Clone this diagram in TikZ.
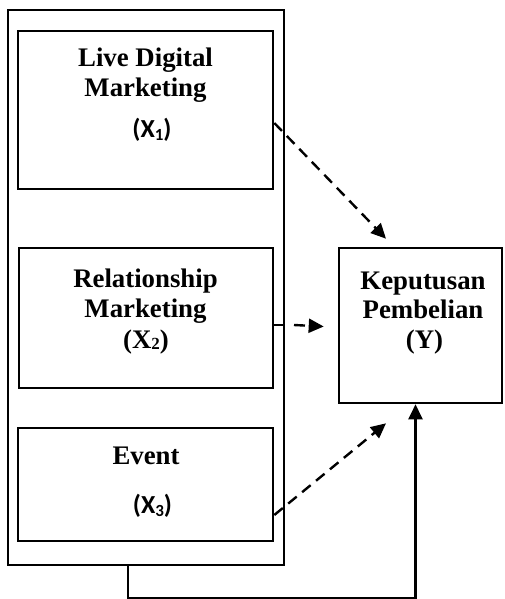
\documentclass[tikz,border=0pt]{standalone}
\usepackage{fontspec}
\setmainfont{Liberation Serif}
\newfontfamily\carl{Carlito}
\usetikzlibrary{arrows.meta}
\newcommand\mysubsans[1]{\raisebox{-0.25ex}{\fontsize{17}{17}\selectfont #1}}
\newcommand\mysubserif[1]{\raisebox{-0.1ex}{\fontsize{17}{17}\selectfont #1}}
\begin{document}
\begin{tikzpicture}[x=1pt,y=-1pt,
  box/.style={draw,line width=2.6pt,rectangle,inner sep=0pt},
  outerbox/.style={draw,line width=2pt,rectangle,inner sep=0pt},
  lbl/.style={anchor=base,inner sep=0pt,font=\bfseries\fontsize{26.8}{32}\selectfont},
  lbls/.style={anchor=base,inner sep=0pt,font=\carl\bfseries\fontsize{26}{30}\selectfont},
  dasharr/.style={line width=2.4pt,dash pattern=on 11pt off 7pt,-{Triangle[length=15pt,width=14pt]}},
  solidarr/.style={line width=2.4pt,-{Triangle[length=15pt,width=14pt]}}]
\useasboundingbox (0,0) rectangle (504,599);
\node[outerbox,minimum width=276,minimum height=555] (outer) at (146,287.5) {};
\node[box,minimum width=255,minimum height=158] (x1) at (145.5,110) {};
\node[box,minimum width=254,minimum height=140] (x2) at (146,318) {};
\node[box,minimum width=255,minimum height=113] (x3) at (145.5,484.5) {};
\node[box,minimum width=163,minimum height=155] (y) at (420.5,325.5) {};
% texts
\node[lbl] (t1a) at (145.5,67) {Live Digital};
\node[lbl] (t1b) at (145.5,97) {Marketing};
\node[lbls] (t1c) at (152,137) {(X\mysubsans{1})};
\node[lbl] (t2a) at (145.5,287) {Relationship};
\node[lbl] (t2b) at (145.5,317) {Marketing};
\node[lbl] (t2c) at (146,348) {(X\mysubserif{2})};
\node[lbl] (t3a) at (146,464) {Event};
\node[lbls] (t3c) at (152.5,513) {(X\mysubsans{3})};
\node[lbl] (tya) at (423,289) {Keputusan};
\node[lbl] (tyb) at (423,318) {Pembelian};
\node[lbl] (tyc) at (424.5,348) {(Y)};
% connectors
\draw[dasharr] ([yshift=-13pt]x1.east) -- ([xshift=-34.5pt,yshift=8pt]y.north);
\draw[line width=2.4pt] ([yshift=-7pt]x2.east) -- ([yshift=-7pt]x2.east -| outer.east);
\draw[dasharr] ([yshift=-7pt]x2.east -| outer.east) ++(9,0) -- ([xshift=-14pt,yshift=-1pt]y.west);
\draw[dasharr] ([yshift=-30.5pt]x3.east) -- ([xshift=-34.5pt,yshift=-19pt]y.south);
\draw[solidarr] ([xshift=-18pt]outer.south) -- ++(0,32) -| ([xshift=-5pt]y.south);
\end{tikzpicture}
\end{document}
